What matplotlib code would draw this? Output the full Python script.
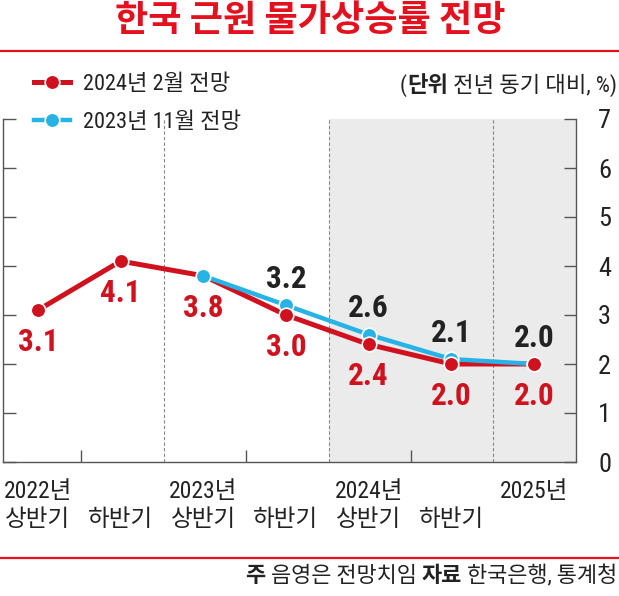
import matplotlib
matplotlib.use("Agg")
import matplotlib.pyplot as plt
from matplotlib import font_manager
from matplotlib.lines import Line2D
from matplotlib.text import Annotation

# ── Data ─────────────────────────────────────────────
periods = ["2022년\n상반기", "\n하반기", "2023년\n상반기", "\n하반기",
           "2024년\n상반기", "\n하반기", "2025년\n"]
feb2024 = [3.1, 4.1, 3.8, 3.0, 2.4, 2.0, 2.0]      # 2024년 2월 전망
nov2023_x = [2, 3, 4, 5, 6]
nov2023 = [3.8, 3.2, 2.6, 2.1, 2.0]                # 2023년 11월 전망
y_ticks = [0, 1, 2, 3, 4, 5, 6, 7]

# ── Fonts: look for a narrow latin face for the digits ───
names = {f.name for f in font_manager.fontManager.ttflist}
narrow = next((n for n in ["Liberation Sans Narrow", "DejaVu Sans Condensed",
                           "Roboto Condensed", "Open Sans Condensed",
                           "Noto Sans Condensed", "Arial Narrow"]
               if n in names), None)
if narrow is None:
    narrow = next((n for n in sorted(names)
                   if ("Narrow" in n or "Condensed" in n) and "Mono" not in n
                   and "Serif" not in n), "Roboto")

# ── Style ────────────────────────────────────────────
RED    = "#d0121f"
TITLE  = "#e3101e"
BLUE   = "#27b3e6"
DARK   = "#222222"
SPINE  = "#555555"
SHADE  = "#ebebeb"
NUM    = [narrow, "Noto Sans CJK KR", "DejaVu Sans"]
KR     = ["Noto Sans CJK KR", "DejaVu Sans"]
plt.rcParams["font.family"] = NUM

W, H = 619, 596
fig = plt.figure(figsize=(W / 100, H / 100), dpi=100)
ax = fig.add_axes([3 / W, 1 - 462 / H, (576 - 3) / W, (462 - 119) / H])

x = list(range(len(feb2024)))
ax.set_xlim(-0.423, 6.508)
ax.set_ylim(0, 7)

# shaded forecast region + year separators
ax.axvspan(3.52, 6.508, color=SHADE, zorder=0, lw=0)
for b in [1.52, 3.52, 5.51]:
    ax.axvline(b, color="#888888", lw=0.8, ls=(0, (3, 2)), zorder=1)

# lines
ax.plot(x, feb2024, color=RED, lw=3.6, zorder=2, solid_capstyle="round")
ax.plot(nov2023_x, nov2023, color=BLUE, lw=3.2, zorder=3, solid_capstyle="round")
ax.plot(nov2023_x, nov2023, ls="none", marker="o", ms=10.5, mfc=BLUE,
        mec="white", mew=1.2, zorder=4)
ax.plot(x, feb2024, ls="none", marker="o", ms=10.5, mfc=RED, mec="white",
        mew=1.2, zorder=5, markevery=[0, 1, 3, 4, 5, 6])

# value labels
for xi, v in zip(x, feb2024):
    ax.annotate(f"{v:.1f}", (xi, v), xytext=(0, -23), textcoords="offset points",
                ha="center", va="center", fontsize=22.5, fontweight="bold",
                color=RED, zorder=6)
for xi, v in zip(nov2023_x[1:], nov2023[1:]):
    ax.annotate(f"{v:.1f}", (xi, v), xytext=(0, 19), textcoords="offset points",
                ha="center", va="center", fontsize=22.5, fontweight="bold",
                color=DARK, zorder=6)

# axes
for s in ["left", "right", "bottom"]:
    ax.spines[s].set_color(SPINE)
    ax.spines[s].set_linewidth(1.0)
ax.spines["top"].set_visible(False)

ax.set_yticks(y_ticks)
ax.set_yticklabels([str(t) for t in y_ticks])
ax.tick_params(axis="y", which="major", direction="in", length=9, width=1,
               color=SPINE, left=True, right=True, labelleft=False,
               labelright=True, labelsize=19, labelcolor=DARK, pad=16)

ax.set_xticks(x)
ax.set_xticklabels(periods, fontsize=17, color=DARK, linespacing=1.3)
ax.set_xticks([0.52, 2.52, 4.51], minor=True)
ax.tick_params(axis="x", which="major", length=0, pad=13)
ax.tick_params(axis="x", which="minor", direction="in", length=9, width=1,
               color=SPINE)

# legend
handles = [
    Line2D([], [], color=RED, lw=3.6, marker="o", ms=10.5, mfc=RED,
           mec="white", mew=1.2),
    Line2D([], [], color=BLUE, lw=3.2, marker="o", ms=10.5, mfc=BLUE,
           mec="white", mew=1.2),
]
fig.legend(handles, ["2024년 2월 전망", "2023년 11월 전망"],
           loc="upper left", bbox_to_anchor=(34 / W, 1 - 74 / H),
           frameon=False, fontsize=16, handlelength=1.6,
           handletextpad=0.6, labelspacing=0.75, borderpad=0,
           borderaxespad=0, labelcolor=DARK)

# title and rules
fig.text(310 / W, 1 - 20 / H, "한국 근원 물가상승률 전망", ha="center",
         va="center", fontsize=26, fontweight="bold", color=TITLE, family=KR)
fig.add_artist(Line2D([0, 1], [1 - 51 / H] * 2, color=TITLE, lw=1.6))
fig.add_artist(Line2D([0, 1], [1 - 558 / H] * 2, color=TITLE, lw=1.6))


def chain(parts, x_right, y_center, size):
    # right-aligned run of text pieces, some bold
    ref = None
    for txt, bold in reversed(parts):
        weight = "bold" if bold else "normal"
        if ref is None:
            ref = fig.text(x_right, y_center, txt, ha="right", va="center",
                           fontsize=size, fontweight=weight, color=DARK)
        else:
            ref = fig.add_artist(Annotation(txt, xy=(0, 0), xycoords=ref,
                                            ha="right", va="bottom",
                                            fontsize=size, fontweight=weight,
                                            color=DARK))


chain([("(", False), ("단위", True), (" 전년 동기 대비, %)", False)],
      617 / W, 1 - 85 / H, 16)
chain([("주", True), (" 음영은 전망치임 ", False), ("자료", True),
       (" 한국은행, 통계청", False)], 617 / W, 1 - 576 / H, 15.8)

plt.savefig("out.png", dpi=100)
